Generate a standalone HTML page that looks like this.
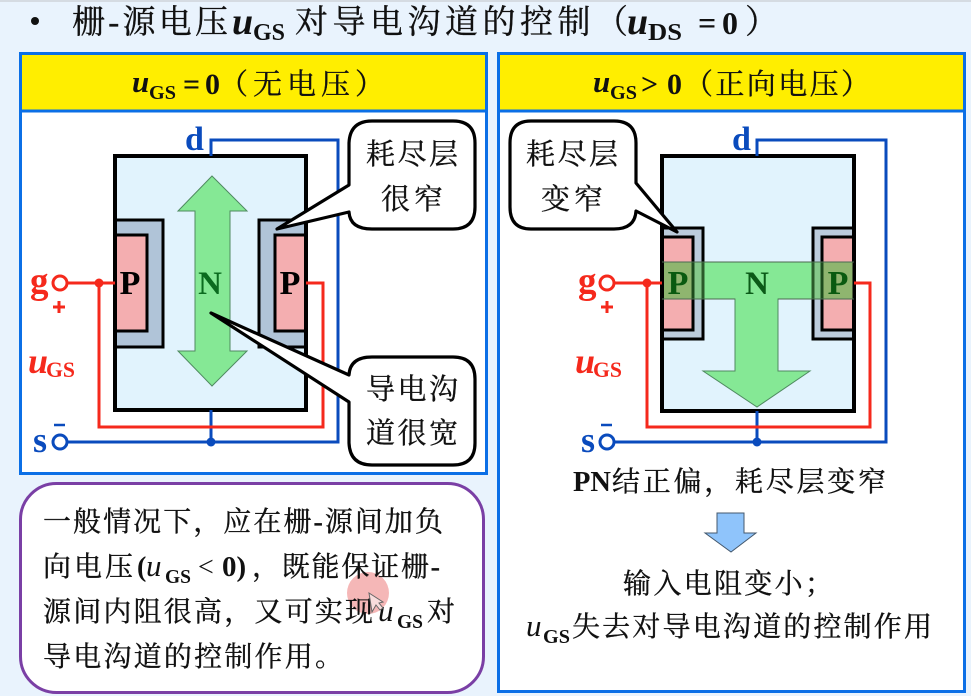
<!DOCTYPE html>
<html><head><meta charset="utf-8"><style>
html,body{margin:0;padding:0;background:#e9f3fd}
svg{display:block;filter:blur(0.35px)}
.c{font-family:"Liberation Serif","Noto Serif CJK SC",serif;fill:#111;stroke:#111;stroke-width:.35px}
.s{font-family:"Liberation Serif",serif;fill:#111}
.b{font-weight:bold}
.i{font-style:italic}
</style></head><body>
<svg width="971" height="696" viewBox="0 0 971 696" xmlns="http://www.w3.org/2000/svg">
<rect width="971" height="696" fill="#e9f3fd"/>
<rect width="971" height="2" fill="#d5dbe2"/>
<circle cx="35" cy="21" r="4" fill="#111"/>
<g class="c" font-size="33">
<text x="72" y="33" textLength="156">栅-源电压</text>
<text x="295" y="33" textLength="333">对导电沟道的控制（</text>
<text x="745" y="33">）</text>
</g>
<g class="s b">
<text x="232" y="34" font-size="38" class="i">u</text>
<text x="253" y="40" font-size="24" textLength="32" lengthAdjust="spacingAndGlyphs">GS</text>
<text x="627" y="34" font-size="38" class="i">u</text>
<text x="648" y="40" font-size="24" textLength="34" lengthAdjust="spacingAndGlyphs">DS</text>
<text x="698" y="34" font-size="32">=</text>
<text x="722" y="34" font-size="32">0</text>
</g>

<!-- left panel -->
<rect x="20.5" y="53.5" width="466" height="420" fill="#fff" stroke="#0b6fe6" stroke-width="3"/>
<rect x="22" y="55" width="463" height="55" fill="#ffee00"/>
<line x1="20" y1="111" x2="487" y2="111" stroke="#0b6fe6" stroke-width="3"/>
<g class="s">
<text x="132" y="92" font-size="31" class="i b">u</text>
<text x="149" y="99" font-size="20" class="b" textLength="27" lengthAdjust="spacingAndGlyphs">GS</text>
<text x="183" y="94" font-size="30" class="b">=</text>
<text x="205" y="94" font-size="30" class="b">0</text>
</g>
<text x="219" y="94" class="c" font-size="29" textLength="165">（无电压）</text>

<!-- left device -->
<rect x="115" y="156" width="191" height="254" fill="#e1f3fd" stroke="#000" stroke-width="4"/>
<polyline points="211,156 211,140 338,140 338,442 67,442" fill="none" stroke="#0a4bbd" stroke-width="3"/>
<line x1="211" y1="410" x2="211" y2="442" stroke="#0a4bbd" stroke-width="3"/>
<circle cx="211" cy="442" r="4.5" fill="#0a4bbd"/>
<rect x="115" y="220" width="48" height="127" fill="#b0c4d8" stroke="#000" stroke-width="3"/>
<rect x="115" y="235" width="32" height="96" fill="#f4aeb0" stroke="#000" stroke-width="3"/>
<rect x="259" y="220" width="47" height="127" fill="#b0c4d8" stroke="#000" stroke-width="3"/>
<rect x="275" y="235" width="31" height="96" fill="#f4aeb0" stroke="#000" stroke-width="3"/>
<line x1="115" y1="156" x2="115" y2="410" stroke="#000" stroke-width="4"/>
<line x1="306" y1="156" x2="306" y2="410" stroke="#000" stroke-width="4"/>
<polygon points="212,176 247,211 230,211 230,351 247,351 212,386 178,351 195,351 195,211 178,211" fill="#85e895" stroke="#4f8a60" stroke-width="1"/>
<polyline points="67,283 115,283" fill="none" stroke="#f5291c" stroke-width="3"/>
<polyline points="99,283 99,427 323,427 323,283 306,283" fill="none" stroke="#f5291c" stroke-width="3"/>
<circle cx="99" cy="283" r="4.5" fill="#f5291c"/>
<circle cx="60" cy="283" r="7" fill="#fff" stroke="#f5291c" stroke-width="3"/>
<circle cx="60" cy="442" r="7" fill="#fff" stroke="#0a4bbd" stroke-width="3"/>
<g class="s b">
<text x="130" y="294" font-size="34" text-anchor="middle" fill="#000">P</text>
<text x="290" y="294" font-size="34" text-anchor="middle" fill="#000">P</text>
<text x="210" y="294" font-size="33" text-anchor="middle" style="fill:#0b6b1f">N</text>
<text x="30" y="293" font-size="37" style="fill:#f5291c">g</text>
<text x="28" y="373" font-size="36" class="i" style="fill:#f5291c">u</text>
<text x="46" y="377" font-size="22" textLength="29" lengthAdjust="spacingAndGlyphs" style="fill:#f5291c">GS</text>
<text x="33" y="452" font-size="36" style="fill:#0a4bbd">s</text>
<text x="185" y="150" font-size="34" style="fill:#0a4bbd">d</text>
</g>
<path d="M53,307H65M59,301V313" stroke="#f5291c" stroke-width="3" fill="none"/>
<line x1="54" y1="425" x2="65" y2="425" stroke="#0a4bbd" stroke-width="2.5"/>

<!-- callouts left -->
<path d="M372,121 H453 Q475,121 475,143 V207 Q475,229 453,229 H372 Q350,229 349,212 L277,229 L349,185 V143 Q350,121 372,121 Z" fill="#fff" stroke="#000" stroke-width="3.2" stroke-linejoin="round"/>
<g class="c" font-size="29">
<text x="366" y="164" textLength="92">耗尽层</text>
<text x="381" y="209" textLength="62">很窄</text>
</g>
<path d="M372,357 H453 Q475,357 475,379 V443 Q475,465 453,465 H372 Q350,465 349,443 V402 L211,313 L349,375 Q350,357 372,357 Z" fill="#fff" stroke="#000" stroke-width="3.2" stroke-linejoin="round"/>
<g class="c" font-size="29">
<text x="366" y="399" textLength="92">导电沟</text>
<text x="366" y="443" textLength="92">道很宽</text>
</g>

<!-- bottom-left note -->
<rect x="20.5" y="483.5" width="463" height="209" rx="36" fill="#fff" stroke="#7a3fa5" stroke-width="3"/>
<circle cx="368" cy="593" r="21" fill="#f3a5a5" opacity=".8"/>
<g class="c" font-size="28">
<text x="43" y="531" textLength="400">一般情况下，应在栅-源间加负</text>
<text x="43" y="576" textLength="90">向电压</text>
<text x="252" y="576" textLength="188">，既能保证栅-</text>
<text x="43" y="621" textLength="330">源间内阻很高，又可实现</text>
<text x="427" y="621" textLength="30">对</text>
<text x="43" y="666" textLength="300">导电沟道的控制作用。</text>
</g>
<g class="s">
<text x="137" y="576" font-size="28" class="b">(</text>
<text x="146" y="576" font-size="31" class="i">u</text>
<text x="165" y="583" font-size="20" class="b" textLength="26" lengthAdjust="spacingAndGlyphs">GS</text>
<text x="198" y="576" font-size="28">&lt;</text>
<text x="222" y="576" font-size="29" class="b">0)</text>
<text x="378" y="621" font-size="31" class="i">u</text>
<text x="397" y="628" font-size="20" class="b" textLength="26" lengthAdjust="spacingAndGlyphs">GS</text>
</g>
<polygon points="369,593 372,612 376,605 380,610 383,608 379,603 383,602" fill="#f8dcdc" stroke="#666" stroke-width="1"/>

<!-- right panel -->
<rect x="498.5" y="53.5" width="466" height="638" fill="#fff" stroke="#0b6fe6" stroke-width="3"/>
<rect x="500" y="55" width="463" height="55" fill="#ffee00"/>
<line x1="498" y1="111" x2="965" y2="111" stroke="#0b6fe6" stroke-width="3"/>
<g class="s">
<text x="593" y="92" font-size="31" class="i b">u</text>
<text x="610" y="99" font-size="20" class="b" textLength="27" lengthAdjust="spacingAndGlyphs">GS</text>
<text x="641" y="94" font-size="30" class="b">&gt;</text>
<text x="667" y="94" font-size="30" class="b">0</text>
</g>
<text x="684" y="94" class="c" font-size="29" textLength="186">（正向电压）</text>

<!-- right device -->
<rect x="662" y="156" width="192" height="255" fill="#e1f3fd" stroke="#000" stroke-width="4"/>
<polyline points="757,156 757,140 886,140 886,442 614,442" fill="none" stroke="#0a4bbd" stroke-width="3"/>
<line x1="757" y1="411" x2="757" y2="442" stroke="#0a4bbd" stroke-width="3"/>
<circle cx="757" cy="442" r="4.5" fill="#0a4bbd"/>
<rect x="662" y="228" width="41" height="111" fill="#bcccdc" stroke="#000" stroke-width="3"/>
<rect x="662" y="237" width="31" height="93" fill="#f4aeb0" stroke="#000" stroke-width="3"/>
<rect x="813" y="228" width="41" height="111" fill="#bcccdc" stroke="#000" stroke-width="3"/>
<rect x="822" y="237" width="32" height="93" fill="#f4aeb0" stroke="#000" stroke-width="3"/>
<line x1="662" y1="156" x2="662" y2="411" stroke="#000" stroke-width="4"/>
<line x1="854" y1="156" x2="854" y2="411" stroke="#000" stroke-width="4"/>
<polygon points="703,262 813,262 813,299 778,299 778,371 810,371 757,407 703,371 735,371 735,299 703,299" fill="#85e895" stroke="#4f8a60" stroke-width="1"/>
<rect x="664" y="262" width="28" height="37" fill="#8fb56f"/>
<rect x="694.5" y="262" width="7" height="37" fill="#85c98a"/>
<rect x="814.5" y="262" width="6" height="37" fill="#85c98a"/>
<rect x="823.5" y="262" width="29" height="37" fill="#8fb56f"/>
<line x1="703" y1="262" x2="703" y2="299" stroke="#2a5a2a" stroke-width="3"/>
<line x1="693" y1="262" x2="693" y2="299" stroke="#1c4a1c" stroke-width="3"/>
<line x1="813" y1="262" x2="813" y2="299" stroke="#2a5a2a" stroke-width="3"/>
<line x1="822" y1="262" x2="822" y2="299" stroke="#1c4a1c" stroke-width="3"/>
<line x1="662" y1="262" x2="854" y2="262" stroke="#4a6a50" stroke-width="1"/>
<line x1="662" y1="299" x2="735" y2="299" stroke="#4a6a50" stroke-width="1"/>
<line x1="778" y1="299" x2="854" y2="299" stroke="#4a6a50" stroke-width="1"/>
<polyline points="614,283 662,283" fill="none" stroke="#f5291c" stroke-width="3"/>
<polyline points="647,283 647,427 870,427 870,283 854,283" fill="none" stroke="#f5291c" stroke-width="3"/>
<circle cx="647" cy="283" r="4.5" fill="#f5291c"/>
<circle cx="607" cy="283" r="7" fill="#fff" stroke="#f5291c" stroke-width="3"/>
<circle cx="607" cy="442" r="7" fill="#fff" stroke="#0a4bbd" stroke-width="3"/>
<g class="s b">
<text x="678" y="294" font-size="34" text-anchor="middle" style="fill:#0a5a10">P</text>
<text x="838" y="294" font-size="34" text-anchor="middle" style="fill:#0a5a10">P</text>
<text x="757" y="294" font-size="33" text-anchor="middle" style="fill:#0b5a18">N</text>
<text x="578" y="293" font-size="37" style="fill:#f5291c">g</text>
<text x="575" y="373" font-size="36" class="i" style="fill:#f5291c">u</text>
<text x="593" y="377" font-size="22" textLength="29" lengthAdjust="spacingAndGlyphs" style="fill:#f5291c">GS</text>
<text x="581" y="452" font-size="36" style="fill:#0a4bbd">s</text>
<text x="732" y="150" font-size="34" style="fill:#0a4bbd">d</text>
</g>
<path d="M601,307H613M607,301V313" stroke="#f5291c" stroke-width="3" fill="none"/>
<line x1="601" y1="425" x2="612" y2="425" stroke="#0a4bbd" stroke-width="2.5"/>

<!-- callout right -->
<path d="M531,121 H614 Q636,121 636,143 V183 L677,232 L636,211 Q635,229 614,229 H531 Q510,229 510,207 V143 Q510,121 531,121 Z" fill="#fff" stroke="#000" stroke-width="3.2" stroke-linejoin="round"/>
<g class="c" font-size="29">
<text x="526" y="164" textLength="92">耗尽层</text>
<text x="541" y="209" textLength="62">变窄</text>
</g>

<text x="573" y="491" class="s b" font-size="29" textLength="38" lengthAdjust="spacingAndGlyphs">PN</text>
<g class="c" font-size="28">
<text x="612" y="491" textLength="274">结正偏，耗尽层变窄</text>
<text x="623" y="593" textLength="210">输入电阻变小；</text>
<text x="572" y="636" textLength="360">失去对导电沟道的控制作用</text>
</g>
<g class="s">
<text x="526" y="636" font-size="31" class="i">u</text>
<text x="543" y="643" font-size="20" class="b" textLength="27" lengthAdjust="spacingAndGlyphs">GS</text>
</g>
<polygon points="717,513 744,513 744,533 756,533 731,552 705,533 717,533" fill="#8fc4fb" stroke="#44586c" stroke-width="1"/>
</svg>
</body></html>
